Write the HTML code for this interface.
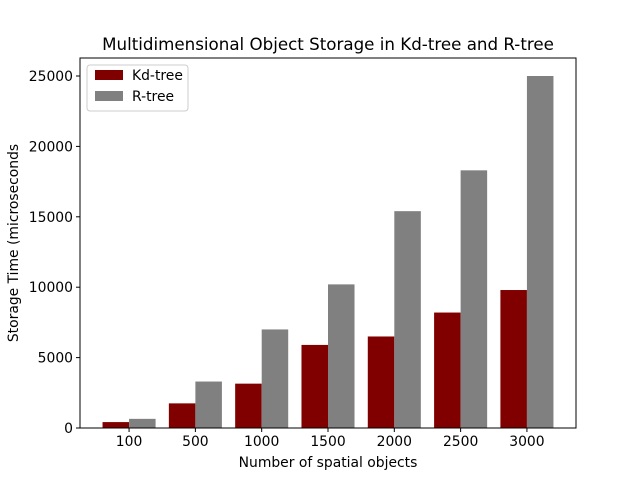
<!DOCTYPE html>
<html><head><meta charset="utf-8"><style>
body{margin:0;background:#fff;font-family:"DejaVu Sans","Liberation Sans",sans-serif;}
svg{display:block}
</style></head><body>
<svg id="chart" width="640" height="480" xmlns="http://www.w3.org/2000/svg" font-family="DejaVu Sans, Liberation Sans, sans-serif">
<rect width="640" height="480" fill="#fff"/>
<text x="328" y="50" text-anchor="middle" font-size="16.7" fill="#000">Multidimensional Object Storage in Kd-tree and R-tree</text>
<g id="bars"></g>
<g id="axes"></g>
<text x="328" y="467" text-anchor="middle" font-size="13.9">Number of spatial objects</text>
<text transform="translate(18,243) rotate(-90)" text-anchor="middle" font-size="13.9">Storage Time (microseconds</text>
<g>
<rect x="87" y="65" width="101" height="46" fill="#fff" stroke="#ccc" rx="3"/>
<rect x="95" y="70" width="28" height="10" fill="#800000"/>
<text x="132" y="80" font-size="13.9">Kd-tree</text>
<rect x="95" y="91" width="28" height="10" fill="#808080"/>
<text x="132" y="101" font-size="13.9">R-tree</text>
</g>
</svg>
<script>
const categories=["100","500","1000","1500","2000","2500","3000"];
const kdValues=[420,1750,3150,5900,6500,8200,9800];
const rValues=[650,3300,7000,10200,15400,18300,25000];
const yTicks=[0,5000,10000,15000,20000,25000];
const L=80,R=576,T=58,B=428;
const x=i=>L+(i+0.74)*(R-L)/7.48;
const y=v=>B-v*(B-76)/25000;
const bw=0.4*(R-L)/7.48;
const ns="http://www.w3.org/2000/svg";
const bars=document.getElementById('bars'),axes=document.getElementById('axes');
function mk(p,tag,a){const e=document.createElementNS(ns,tag);for(const k in a)e.setAttribute(k,a[k]);p.appendChild(e);return e;}
categories.forEach((c,i)=>{
 const b1=mk(bars,'rect',{x:x(i)-bw,y:y(kdValues[i]),width:bw,height:B-y(kdValues[i]),fill:'#800000'});
 
 
 const b2=mk(bars,'rect',{x:x(i),y:y(rValues[i]),width:bw,height:B-y(rValues[i]),fill:'#808080'});
 
 
 mk(axes,'line',{x1:x(i),x2:x(i),y1:B,y2:B+4,stroke:'#000'});
 const t=mk(axes,'text',{x:x(i),y:B+18,'text-anchor':'middle','font-size':13.9});
 t.textContent=c;
 
 
});
yTicks.forEach(v=>{
 mk(axes,'line',{x1:L-4,x2:L,y1:y(v),y2:y(v),stroke:'#000'});
 const t=mk(axes,'text',{x:L-7,y:y(v)+5,'text-anchor':'end','font-size':13.9});
 t.textContent=v;
 
 
});
const f=mk(axes,'rect',{x:L,y:T,width:R-L,height:B-T,fill:'none',stroke:'#000','stroke-width':1});


</script>
</body></html>
